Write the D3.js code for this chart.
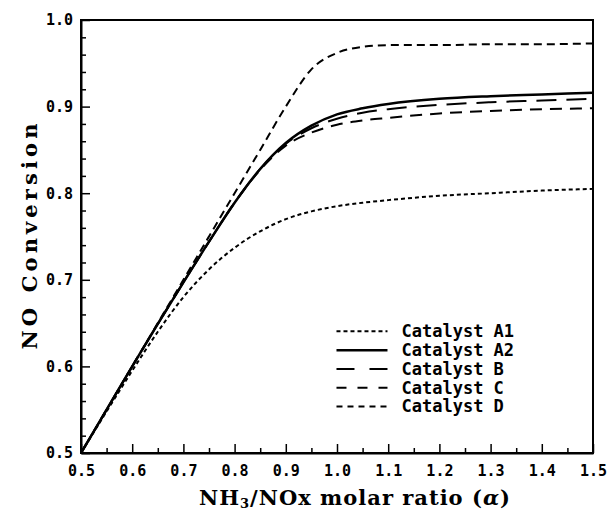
<!DOCTYPE html>
<html>
<head>
<meta charset="utf-8">
<script src="https://cdn.jsdelivr.net/npm/d3@7"></script>
<style>
  body { margin: 0; background: #fff; }
  svg { display: block; }
</style>
</head>
<body>
<div id="chart"></div>
<script>
// NH3/NOx molar ratio values
const alpha = [0.5, 0.55, 0.6, 0.65, 0.7, 0.75, 0.8, 0.85, 0.9, 0.95, 1.0, 1.05, 1.1, 1.2, 1.3, 1.4, 1.5];

// NO conversion for each catalyst
const catA1 = [0.5, 0.548, 0.595, 0.640, 0.680, 0.712, 0.737, 0.756, 0.770, 0.779, 0.785, 0.789, 0.792, 0.797, 0.800, 0.803, 0.805];
const catA2 = [0.5, 0.550, 0.600, 0.649, 0.697, 0.744, 0.789, 0.828, 0.858, 0.878, 0.891, 0.898, 0.903, 0.909, 0.912, 0.914, 0.916];
const catB  = [0.5, 0.550, 0.600, 0.649, 0.697, 0.744, 0.789, 0.828, 0.857, 0.875, 0.886, 0.893, 0.897, 0.902, 0.905, 0.907, 0.909];
const catC  = [0.5, 0.550, 0.600, 0.649, 0.697, 0.744, 0.789, 0.827, 0.855, 0.870, 0.879, 0.884, 0.887, 0.892, 0.895, 0.897, 0.898];
const catD  = [0.5, 0.550, 0.600, 0.650, 0.700, 0.750, 0.800, 0.850, 0.900, 0.943, 0.962, 0.969, 0.971, 0.971, 0.972, 0.972, 0.973];

const seriesNames = ["Catalyst A1", "Catalyst A2", "Catalyst B", "Catalyst C", "Catalyst D"];
const seriesValues = [catA1, catA2, catB, catC, catD];
const seriesDash = ["4,3", null, "20,10", "12,8", "8,5"];
const legendDash = ["4,3", null, "18,15", "10,11", "6,5"];

const xTicks = [0.5, 0.6, 0.7, 0.8, 0.9, 1.0, 1.1, 1.2, 1.3, 1.4, 1.5];
const yTicks = [0.5, 0.6, 0.7, 0.8, 0.9, 1.0];

const W = 608, H = 512;
const margin = { top: 20, right: 15, bottom: 59, left: 81 };
const width = W - margin.left - margin.right,
      height = H - margin.top - margin.bottom;

const svgRoot = d3.select("#chart").append("svg")
    .attr("width", W)
    .attr("height", H);

const svg = svgRoot.append("g")
    .attr("transform", `translate(${margin.left},${margin.top})`);

const x = d3.scaleLinear().domain([0.5, 1.5]).range([0, width]);
const y = d3.scaleLinear().domain([0.5, 1.0]).range([height, 0]);

const monoFont = "'DejaVu Sans Mono', monospace";

// minor ticks (inward)
const xMinor = d3.range(0.55, 1.5, 0.1);
const yMinor = d3.range(0.5, 1.0001, 0.02).filter(v => Math.abs(v * 10 - Math.round(v * 10)) > 1e-6);

svg.append("g")
    .attr("transform", `translate(0,${height})`)
    .call(d3.axisBottom(x).tickValues(xTicks).tickFormat(d3.format(".1f")).tickSizeInner(-9).tickSizeOuter(0).tickPadding(12));

svg.append("g")
    .attr("transform", `translate(0,${height})`)
    .call(d3.axisBottom(x).tickValues(xMinor).tickFormat("").tickSizeInner(-5).tickSizeOuter(0))
    .select(".domain").remove();

svg.append("g")
    .call(d3.axisLeft(y).tickValues(yTicks).tickFormat(d3.format(".1f")).tickSizeInner(-9).tickSizeOuter(0).tickPadding(8));

svg.append("g")
    .call(d3.axisLeft(y).tickValues(yMinor).tickFormat("").tickSizeInner(-5).tickSizeOuter(0))
    .select(".domain").remove();

svg.selectAll(".tick line").attr("stroke", "#000").attr("stroke-width", 1.5);
svg.selectAll(".domain").attr("stroke", "#000").attr("stroke-width", 2);
svg.selectAll(".tick text")
    .attr("fill", "#000")
    .style("font-family", monoFont)
    .style("font-weight", "bold")
    .style("font-size", "15px");

// frame on top and right
svg.append("rect")
    .attr("width", width)
    .attr("height", height)
    .attr("fill", "none")
    .attr("stroke", "#000")
    .attr("stroke-width", 2);

const line = d3.line()
    .x((d, i) => x(alpha[i]))
    .y(d => y(d))
    .curve(d3.curveMonotoneX);

svg.selectAll(".series")
    .data(seriesValues)
    .enter()
    .append("path")
    .attr("class", "series")
    .attr("fill", "none")
    .attr("stroke", "#000")
    .attr("stroke-width", (d, i) => i === 1 ? 2.5 : 2)
    .attr("stroke-dasharray", (d, i) => seriesDash[i])
    .attr("d", line);

// legend
const legend = svg.append("g")
    .attr("transform", `translate(${x(0.999)}, ${y(0.6405)})`);

const items = legend.selectAll(".legend-item")
    .data(seriesNames)
    .enter()
    .append("g")
    .attr("class", "legend-item")
    .attr("transform", (d, i) => `translate(0, ${i * 18.8})`);

items.append("line")
    .attr("x1", 0)
    .attr("x2", 51)
    .attr("stroke", "#000")
    .attr("stroke-width", (d, i) => i === 1 ? 2.5 : 2)
    .attr("stroke-dasharray", (d, i) => legendDash[i]);

items.append("text")
    .attr("x", 65)
    .attr("dy", "0.35em")
    .style("font-family", monoFont)
    .style("font-weight", "bold")
    .style("font-size", "17px")
    .text(d => d);

// axis titles
svgRoot.append("text")
    .attr("transform", `translate(30, ${margin.top + height / 2}) rotate(-90)`)
    .attr("text-anchor", "middle")
    .attr("dy", "0.35em")
    .style("font-family", "'DejaVu Serif', serif")
    .style("font-weight", "bold")
    .style("font-size", "21px")
    .attr("textLength", 226)
    .text("NO Conversion");

const xt = svgRoot.append("text")
    .attr("x", 355)
    .attr("y", 505)
    .attr("text-anchor", "middle")
    .style("font-family", "'DejaVu Serif', serif")
    .style("font-weight", "bold")
    .style("font-size", "21px")
    .style("letter-spacing", "1px");
xt.append("tspan").text("NH");
xt.append("tspan").attr("font-size", "13px").attr("dy", 3).text("3");
xt.append("tspan").attr("dy", -3).text("/NOx molar ratio (");
xt.append("tspan").style("font-style", "italic").text("α");
xt.append("tspan").text(")");
</script>
</body>
</html>
